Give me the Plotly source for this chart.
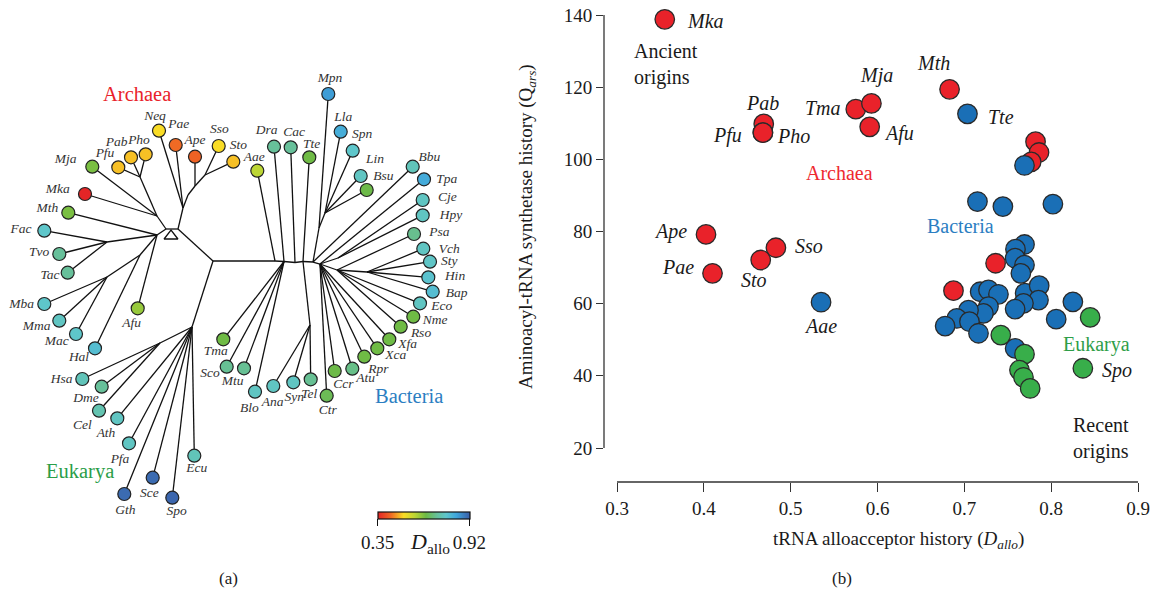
import plotly.graph_objects as go

W, H = 1160, 596

# ---------------- Panel (b) data ----------------
archaea_x = [0.355, 0.469, 0.468, 0.468, 0.575, 0.593, 0.591, 0.683, 0.782, 0.786, 0.777,
             0.4025, 0.410, 0.4655, 0.483, 0.736, 0.6875]
archaea_y = [138.8, 109.8, 107.4, 107.4, 113.9, 115.5, 109.0, 119.4, 104.9, 101.9, 99.3,
             79.2, 68.4, 72.1, 75.5, 71.2, 63.6]
archaea_lab = ["Mka", "Pab", "Pfu", "Pho", "Tma", "Mja", "Afu", "Mth", "", "", "",
               "Ape", "Pae", "Sto", "Sso", "", ""]

bacteria_x = [0.7036, 0.535, 0.7693, 0.7151, 0.7444, 0.8020, 0.7693, 0.7589, 0.7585, 0.7693,
              0.7651, 0.7182, 0.7278, 0.7393, 0.7700, 0.7862, 0.7854, 0.7681, 0.7585, 0.7278,
              0.7220, 0.7048, 0.6913, 0.6779, 0.7059, 0.7163, 0.8250, 0.8058, 0.7585]
bacteria_y = [112.6, 60.4, 98.3, 88.3, 86.9, 87.6, 76.4, 75.1, 72.6, 70.7,
              68.4, 63.3, 63.8, 62.6, 62.9, 65.0, 61.0, 60.1, 58.5, 59.2,
              57.3, 58.2, 55.9, 53.8, 55.0, 51.8, 60.5, 55.7, 47.6]
bacteria_lab = ["Tte", "Aae"] + [""] * 27

eukarya_x = [0.8449, 0.7420, 0.7693, 0.7635, 0.7681, 0.7758, 0.8365]
eukarya_y = [56.2, 51.3, 46.0, 41.6, 39.6, 36.5, 42.1]
eukarya_lab = ["", "", "", "", "", "", "Spo"]

x_ticks = [0.3, 0.4, 0.5, 0.6, 0.7, 0.8, 0.9]
y_ticks = [20, 40, 60, 80, 100, 120, 140]

# label placement (style): anchor, x shift, y shift in px
label_style = {
    "Mka": ("left", 20, -2), "Pab": ("center", -1, 21), "Pfu": ("right", -19, -3),
    "Pho": ("left", 12, -3), "Tma": ("right", -13, 1), "Mja": ("center", 5, 28),
    "Afu": ("left", 12, -7), "Mth": ("center", -16, 26), "Tte": ("left", 19, -3),
    "Ape": ("right", -17, 3), "Pae": ("right", -17, 6), "Sto": ("center", -7, -20),
    "Sso": ("left", 17, 2), "Aae": ("center", -1, -24), "Spo": ("left", 17, -2),
}

# ---------------- Panel (a) data: tree ----------------
leaf_names = ["Neq", "Pae", "Ape", "Sso", "Sto", "Pho", "Pab", "Pfu", "Mja", "Mka", "Mth",
              "Fac", "Tvo", "Tac", "Mba", "Mma", "Mac", "Hal", "Afu",
              "Hsa", "Dme", "Cel", "Ath", "Pfa", "Ecu", "Sce", "Gth", "Spo",
              "Aae", "Dra", "Cac", "Tte", "Mpn", "Lla", "Spn", "Lin", "Bsu", "Bbu", "Tpa",
              "Cje", "Hpy", "Psa", "Vch", "Sty", "Hin", "Bap", "Eco", "Nme", "Rso", "Xfa",
              "Xca", "Rpr", "Atu", "Ccr", "Ctr", "Tel", "Syn", "Ana", "Blo", "Mtu", "Sco", "Tma"]
leaf_x = [159, 175.7, 195, 218.7, 233.3, 145.7, 131, 118.3, 92.3, 85, 68.3,
          44.3, 59.3, 67.7, 44.3, 59.3, 76, 95, 137.7,
          82.3, 101.7, 99, 117.3, 129, 194.3, 152.7, 124.3, 172.3,
          257.3, 274, 290.7, 309.3, 328.3, 340.7, 352.7, 360.7, 366.7, 412.7, 424,
          422.7, 422.7, 414, 423.3, 430, 428.3, 432.7, 420, 413.3, 400.7, 389.3,
          377.3, 364.3, 352.3, 334.7, 326.7, 310.7, 293.3, 273.3, 255, 244, 226.7, 223.3]
leaf_y = [130.7, 145, 156.7, 146, 161.7, 154.3, 157.3, 167.3, 166.7, 194, 212.7,
          230.7, 254, 272.7, 304, 320.7, 334, 348.3, 308.3,
          379, 386.7, 410.7, 418.3, 443.3, 455.7, 477.7, 494, 497.7,
          170.7, 146.7, 147.3, 157.3, 94, 131.7, 150.7, 176, 190, 166.7, 179.3,
          200, 215.3, 234, 248.7, 261.7, 277.3, 291.7, 303.3, 316.7, 326.7, 339.3,
          348.3, 356.7, 368.7, 371, 395.7, 379.3, 382.3, 386, 391.7, 368.3, 366.7, 339.3]
leaf_dallo = [0.51, 0.43, 0.42, 0.51, 0.49, 0.49, 0.49, 0.49, 0.635, 0.35, 0.635,
              0.77, 0.715, 0.715, 0.77, 0.76, 0.77, 0.79, 0.61,
              0.75, 0.715, 0.74, 0.76, 0.76, 0.75, 0.905, 0.905, 0.91,
              0.578, 0.715, 0.715, 0.645, 0.845, 0.82, 0.77, 0.76, 0.65, 0.75, 0.825,
              0.76, 0.76, 0.705, 0.76, 0.765, 0.78, 0.79, 0.76, 0.645, 0.645, 0.645,
              0.645, 0.645, 0.70, 0.65, 0.66, 0.71, 0.76, 0.76, 0.76, 0.71, 0.71, 0.645]
# label offsets (style) relative to each leaf, px
leaf_label_dx = [-4, 3, 0, 0.6, 5, -6.7, -14.3, -13.3, -26.6, -27.3, -21,
                 -23.3, -20.3, -17.7, -22.6, -22.6, -19.3, -16, -6,
                 -20.6, -15.7, -16.7, -11.3, -9, 2.4, -3.4, 1, 4.4,
                 -3, -7.3, 3.3, 2.4, 1.7, 2.6, 9.3, 14.3, 16.6, 16.6, 22.7,
                 24.6, 28.3, 25.3, 26, 19.3, 26.7, 24, 21.7, 21.7, 20.3, 18.4,
                 18.4, 14, 13.4, 8.6, 1, -1.4, 1, -0.6, -5.7, -11.3, -16.7, -7.6]
leaf_label_dy = [-14, -20, -15.7, -16, -15.7, -13.3, -14.6, -13.3, -6.7, -4, -3.7,
                 -1.4, -1.3, 3, 0.3, 6, 7.7, 9.4, 15,
                 1, 11.6, 15.3, 15.7, 16, 12.6, 15.6, 16.7, 14,
                 -13.4, -16, -14.6, -13, -15.7, -14.4, -15.7, -16, -13.3, -9.4, 0.7,
                 -2.7, 0, -1.7, 1.3, 0, -0.6, 1.6, 3.4, 4.3, 6.6, 5,
                 7.7, 12.6, 9.6, 14, 15, 15, 15, 16.3, 16.6, 13.4, 7.3, 12.4]

node_names = ["AL", "AR", "Y1", "Y2", "P1", "T1", "Ms1", "Ms0", "C1", "Ca", "C3", "C4",
              "J1", "E0", "EH", "B0", "B1", "B2", "B3", "B4", "B5", "F1", "F2", "Ep",
              "P0", "G1", "Cy"]
node_x = [166, 178, 157, 157, 140, 107, 107, 140, 183, 188, 195, 205,
          213, 192, 160, 275, 284, 295, 303, 313, 320, 319, 325, 338,
          337, 367, 310]
node_y = [229, 229, 216, 235, 177, 242, 277, 255, 208, 195, 186, 175,
          261, 327, 343, 261, 261.5, 262.5, 261.5, 262, 264, 228, 213, 258,
          270, 272, 325]

tree_edges = [("AL", "AR"), ("AL", "Y1"), ("AL", "Y2"),
              ("Y1", "Mja"), ("Y1", "Mka"), ("Y1", "P1"), ("P1", "Pfu"), ("P1", "Pab"), ("P1", "Pho"),
              ("Y2", "Mth"), ("Y2", "T1"), ("T1", "Fac"), ("T1", "Tvo"), ("T1", "Tac"),
              ("Y2", "Ms0"), ("Ms0", "Ms1"), ("Ms0", "Hal"), ("Ms1", "Mba"), ("Ms1", "Mma"), ("Ms1", "Mac"),
              ("Y2", "Afu"),
              ("AR", "C1"), ("C1", "Neq"), ("C1", "Pae"), ("C1", "Ca"), ("Ca", "C3"), ("C3", "Ape"),
              ("C3", "C4"), ("C4", "Sso"), ("C4", "Sto"),
              ("AR", "J1"), ("J1", "E0"), ("E0", "EH"), ("EH", "Hsa"), ("EH", "Dme"), ("EH", "Cel"),
              ("E0", "Ath"), ("E0", "Pfa"), ("E0", "Gth"), ("E0", "Sce"), ("E0", "Spo"), ("E0", "Ecu"),
              ("J1", "B0"), ("B0", "B1"), ("B1", "B2"), ("B2", "B3"), ("B3", "B4"), ("B4", "B5"),
              ("B0", "Aae"), ("B1", "Dra"), ("B2", "Cac"), ("B3", "Tte"),
              ("B4", "F1"), ("F1", "Mpn"), ("F1", "F2"), ("F2", "Lla"), ("F2", "Spn"), ("F2", "Lin"),
              ("F2", "Bsu"), ("B4", "Bbu"), ("B5", "Tpa"), ("B5", "Ep"), ("Ep", "Cje"), ("Ep", "Hpy"),
              ("B5", "P0"), ("P0", "Psa"), ("P0", "G1"), ("G1", "Vch"), ("G1", "Sty"), ("G1", "Hin"),
              ("G1", "Bap"), ("P0", "Eco"), ("P0", "Nme"), ("P0", "Rso"),
              ("B5", "Xfa"), ("B5", "Xca"), ("B5", "Rpr"), ("B5", "Atu"), ("B5", "Ccr"), ("B5", "Ctr"),
              ("B3", "Cy"), ("Cy", "Ana"), ("Cy", "Syn"), ("Cy", "Tel"),
              ("B1", "Tma"), ("B1", "Sco"), ("B1", "Mtu"), ("B1", "Blo")]

root_marker = (171, 236)

d_min, d_max = 0.35, 0.92
colorscale = [[0.00, "#E42526"], [0.14, "#F06A24"], [0.28, "#F9DC25"], [0.40, "#BCD634"],
              [0.52, "#6DBA45"], [0.64, "#67C09A"], [0.74, "#5EC6CC"], [0.85, "#3FA6DC"],
              [1.00, "#3A5EA8"]]

RED, BLUE, GREEN = "#E9222A", "#1A6FB6", "#38AE4A"
SERIF = "Liberation Serif"


def paper_x(px):
    return px / W


def paper_y(py):
    return 1 - py / H


fig = go.Figure()

# ---- tree ----
pos = {}
for n, x, y in zip(node_names, node_x, node_y):
    pos[n] = (x, y)
for n, x, y in zip(leaf_names, leaf_x, leaf_y):
    pos[n] = (x, y)
ex, ey = [], []
for a, b in tree_edges:
    ex += [pos[a][0], pos[b][0], None]
    ey += [pos[a][1], pos[b][1], None]
fig.add_trace(go.Scatter(x=ex, y=ey, mode="lines", line=dict(color="#111", width=1.3),
                         xaxis="x2", yaxis="y2", hoverinfo="skip", cliponaxis=False))
fig.add_trace(go.Scatter(x=[root_marker[0]], y=[root_marker[1]], mode="markers",
                         marker=dict(symbol="triangle-up-open", size=12, color="#111",
                                     line=dict(width=1.3)),
                         xaxis="x2", yaxis="y2", hoverinfo="skip"))
fig.add_trace(go.Scatter(x=leaf_x, y=leaf_y, mode="markers",
                         marker=dict(size=13, color=leaf_dallo, coloraxis="coloraxis",
                                     line=dict(color="#222", width=1.2)),
                         xaxis="x2", yaxis="y2", cliponaxis=False, text=leaf_names))
fig.add_trace(go.Scatter(x=[x + dx for x, dx in zip(leaf_x, leaf_label_dx)],
                         y=[y + dy for y, dy in zip(leaf_y, leaf_label_dy)],
                         mode="text", text=[f"<i>{n}</i>" for n in leaf_names],
                         textfont=dict(family=SERIF, size=13.5, color="#333"),
                         xaxis="x2", yaxis="y2", cliponaxis=False, hoverinfo="skip"))
for txt, x, y, c in [("Archaea", 136.5, 93.5, RED), ("Eukarya", 80, 471, "#2A9D48"),
                     ("Bacteria", 408.5, 395.5, "#2B7EC2")]:
    fig.add_annotation(x=x, y=y, xref="x2", yref="y2", text=txt, showarrow=False,
                       xanchor="center", yanchor="middle",
                       font=dict(family=SERIF, size=20.5, color=c))

# ---- scatter ----
for xs, ys, col in [(archaea_x, archaea_y, RED), (bacteria_x, bacteria_y, BLUE),
                    (eukarya_x, eukarya_y, GREEN)]:
    fig.add_trace(go.Scatter(x=xs, y=ys, mode="markers", cliponaxis=False,
                             marker=dict(size=19.5, color=col, line=dict(color="#2a2a2a", width=1.3)),
                             xaxis="x", yaxis="y"))
for xs, ys, labs in [(archaea_x, archaea_y, archaea_lab), (bacteria_x, bacteria_y, bacteria_lab),
                     (eukarya_x, eukarya_y, eukarya_lab)]:
    for x, y, lab in zip(xs, ys, labs):
        if not lab:
            continue
        anc, sx, sy = label_style[lab]
        fig.add_annotation(x=x, y=y, xref="x", yref="y", text=f"<i>{lab}</i>", showarrow=False,
                           xanchor=anc, yanchor="middle", xshift=sx, yshift=sy,
                           font=dict(family=SERIF, size=20, color="#1a1a1a"))

fig.add_annotation(x=0.317, y=126.4, xref="x", yref="y", text="Ancient<br>origins", showarrow=False,
                   xanchor="left", yanchor="middle", align="left",
                   font=dict(family=SERIF, size=20, color="#1a1a1a"))
fig.add_annotation(x=0.8918, y=22.7, xref="x", yref="y", text="Recent<br>origins", showarrow=False,
                   xanchor="right", yanchor="middle", align="right",
                   font=dict(family=SERIF, size=20, color="#1a1a1a"))
for txt, x, y, c in [("Archaea", 0.5559, 96.3, "#EE2A2F"), ("Bacteria", 0.6952, 81.5, "#2B7EC2"),
                     ("Eukarya", 0.8526, 48.8, "#2E9E48")]:
    fig.add_annotation(x=x, y=y, xref="x", yref="y", text=txt, showarrow=False,
                       xanchor="center", yanchor="middle",
                       font=dict(family=SERIF, size=20, color=c))

# axis titles and panel tags
paper_texts = [
    ("tRNA alloacceptor history (<i>D<sub>allo</sub></i>)", 898, 540, 19, 0),
    ("Aminoacyl-tRNA synthetase history (Q<sub><i>ars</i></sub>)", 527, 227, 19, -90),
    ("(a)", 228, 578, 17, 0),
    ("(b)", 842, 578, 17, 0),
    ("<i>D</i><sub>allo</sub>", 430, 543, 22, 0),
]
for txt, px, py, size, ang in paper_texts:
    fig.add_annotation(x=paper_x(px), y=paper_y(py), xref="paper", yref="paper", showarrow=False,
                       xanchor="center", yanchor="middle", textangle=ang, text=txt,
                       font=dict(family=SERIF, size=size, color="#1a1a1a"))

# range-frame axis lines (span only the tick range)
fig.add_shape(type="line", xref="x", yref="y domain", x0=x_ticks[0], x1=x_ticks[-1], y0=0, y1=0,
              line=dict(color="#333", width=1.3))
fig.add_shape(type="line", xref="x domain", yref="y", x0=0, x1=0, y0=y_ticks[0], y1=y_ticks[-1],
              line=dict(color="#333", width=1.3))

axis_common = dict(showline=False, ticks="outside", automargin=False,
                   tickwidth=1.3, tickcolor="#333", showgrid=False, zeroline=False,
                   tickfont=dict(family=SERIF, size=19, color="#1a1a1a"))

px_per_x = (1138 - 617) / 0.6
px_per_y = (448 - 15) / 120.0

fig.update_layout(
    width=W, height=H, margin=dict(l=0, r=0, t=0, b=0, autoexpand=False),
    paper_bgcolor="white", plot_bgcolor="rgba(0,0,0,0)", showlegend=False,
    font=dict(family=SERIF, color="#1a1a1a"),
    xaxis=dict(domain=[paper_x(604), paper_x(1138)], range=[0.3 - 13 / px_per_x, 0.9], anchor="y",
               tickvals=x_ticks, ticktext=[f"{v:.1f}" for v in x_ticks], ticklen=9, **axis_common),
    yaxis=dict(domain=[paper_y(482), paper_y(15)], range=[140 - (482 - 15) / px_per_y, 140], anchor="x",
               tickvals=y_ticks, ticklen=7, **axis_common),
    xaxis2=dict(domain=[0, paper_x(500)], range=[0, 500], visible=False, anchor="y2"),
    yaxis2=dict(domain=[0, 1], range=[H, 0], visible=False, anchor="x2"),
    coloraxis=dict(cmin=d_min, cmax=d_max, colorscale=colorscale,
                   colorbar=dict(orientation="h", x=paper_x(423.5), xanchor="center",
                                 y=paper_y(512), yanchor="top", len=92, lenmode="pixels",
                                 thickness=7, outlinewidth=1.2, outlinecolor="#111",
                                 ticks="outside", ticklen=7, tickwidth=1.2, tickcolor="#111",
                                 tickvals=[0.3502, 0.9198], ticktext=["0.35", "0.92"],
                                 tickfont=dict(family=SERIF, size=19, color="#1a1a1a"),
                                 xpad=0, ypad=0, borderwidth=0)),
)

fig.write_html("out.html", config={"displayModeBar": False},
               post_script="document.body.style.margin='0px';")
